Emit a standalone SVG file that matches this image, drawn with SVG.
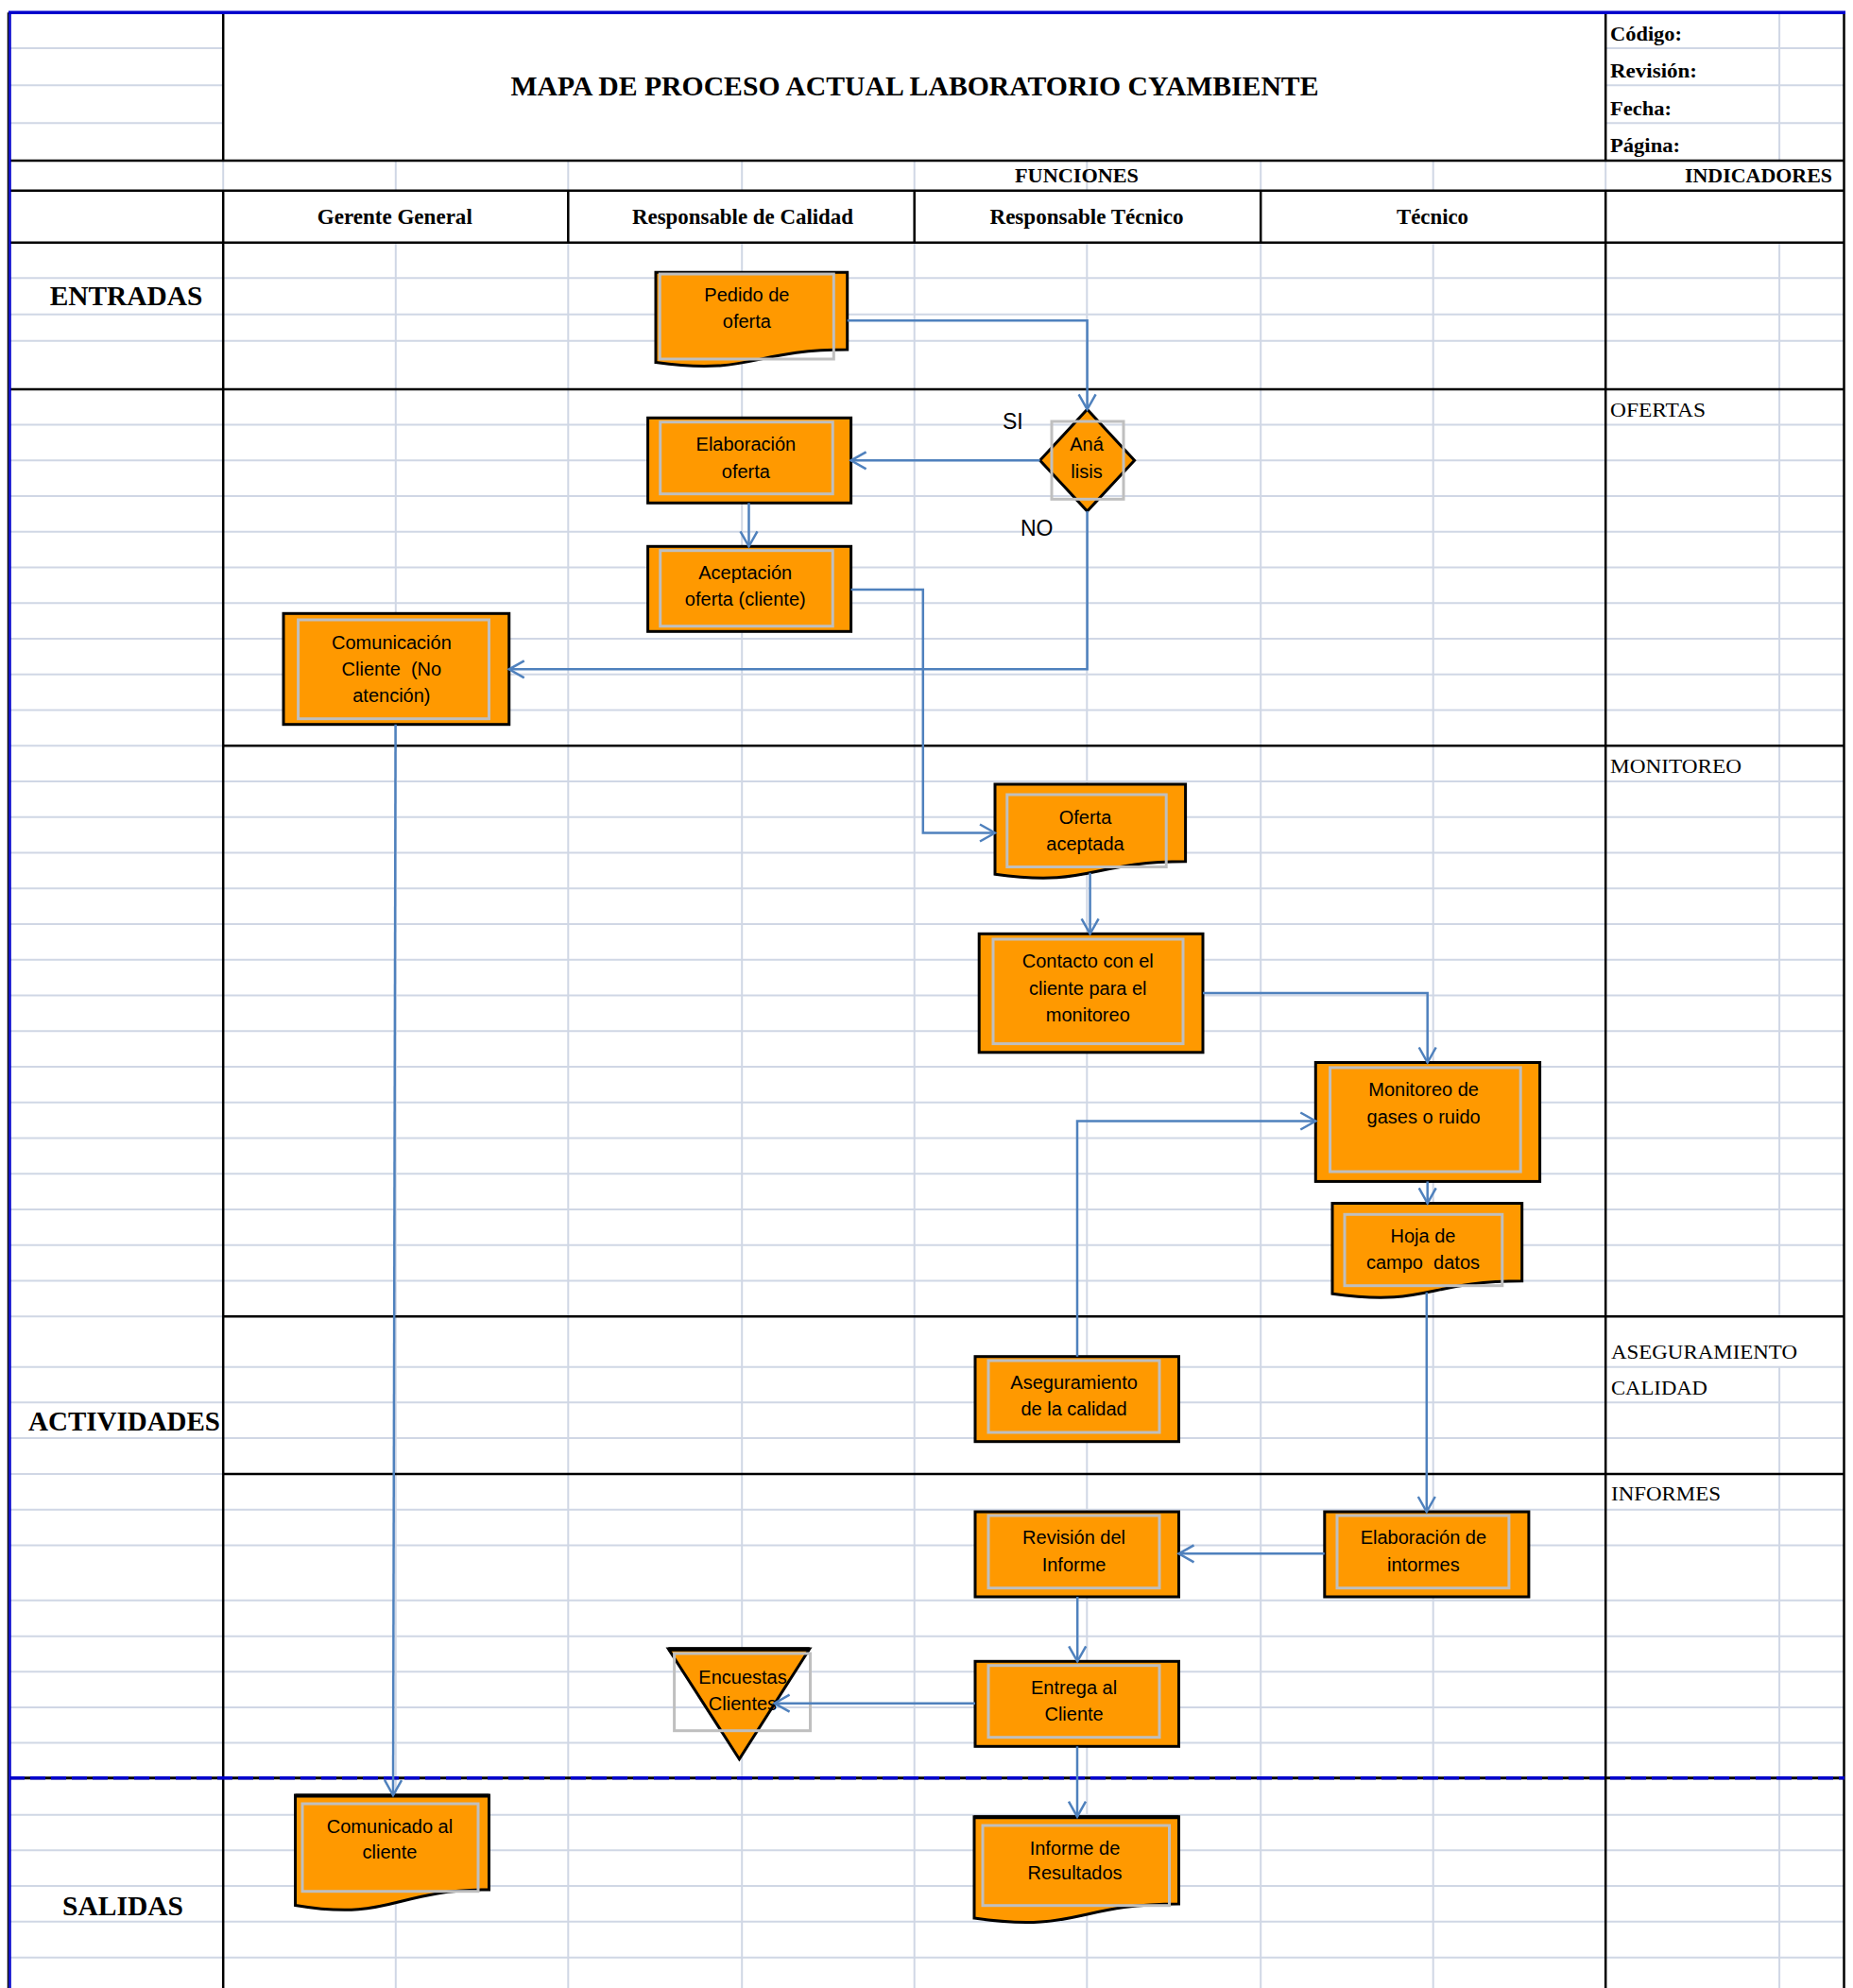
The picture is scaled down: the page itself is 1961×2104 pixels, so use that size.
<svg xmlns="http://www.w3.org/2000/svg" width="1961" height="2104" viewBox="0 0 1961 2104">
  <style>
    .grid { stroke: #D0D7E5; stroke-width: 2; fill: none; }
    .rule { stroke: #000; stroke-width: 2.5; fill: none; }
    .serif { font-family: "Liberation Serif", "Times New Roman", serif; fill: #000; }
    .b { font-weight: bold; }
    .sec { font-size: 29.5px; font-weight: bold; }
    .col { font-size: 22.5px; font-weight: bold; text-anchor: middle; }
    .meta { font-size: 22px; font-weight: bold; }
    .ind { font-size: 22px; }
    .box { fill: #FF9900; stroke: #000; stroke-width: 3; stroke-linejoin: miter; }
    .inner { fill: none; stroke: #BFBFBF; stroke-width: 3; }
    .nt { font-family: "Liberation Sans", Arial, sans-serif; font-size: 20px; fill: #000; text-anchor: middle; }
    .yn { font-family: "Liberation Sans", Arial, sans-serif; font-size: 23px; fill: #000; }
    .conn { fill: none; stroke: #4F81BD; stroke-width: 2.5; marker-end: url(#arr); }
  </style>
  <defs>
    <marker id="arr" markerUnits="userSpaceOnUse" markerWidth="24" markerHeight="24" viewBox="-20 -12 24 24" refX="0" refY="0" orient="auto">
      <path d="M-16,-9 L0,0 L-16,9" fill="none" stroke="#4F81BD" stroke-width="2.5"/>
    </marker>
  </defs>

  <rect x="0" y="0" width="1961" height="2104" fill="#fff"/>

  <!-- spreadsheet gridlines -->
  <g id="gridlines">
    <path class="grid" d="M10,51H236M10,90.3H236M10,130.3H236M1699,51H1951M1699,90.3H1951M1699,130.3H1951M1883.1,13.3V170"/>
    <path class="grid" d="M236.2,170V201.7M418.8,170V201.7M601.3,170V201.7M785.2,170V201.7M967.7,170V201.7M1150.3,170V201.7M1334.2,170V201.7M1516.7,170V201.7M1699.2,170V201.7"/>
    <path class="grid" d="M418.8,256.7V2104M601.3,256.7V2104M785.2,256.7V2104M967.7,256.7V2104M1150.3,256.7V2104M1334.2,256.7V2104M1516.7,256.7V2104M1883.1,256.7V1393.3M1883.1,1446.7V2104"/>
    <path class="grid" d="M10,294.3H1951M10,332.7H1951M10,360.7H1951
      M10,449.5H1951M10,487.2H1951M10,525H1951M10,562.7H1951M10,600.5H1951M10,638.3H1951M10,676H1951M10,713.8H1951M10,751.5H1951M10,789.3H236
      M10,827H1951M10,864.8H1951M10,902.5H1951M10,940.3H1951M10,978H1951M10,1015.8H1951M10,1053.5H1951M10,1091.3H1951M10,1129H1951M10,1166.8H1951M10,1204.5H1951M10,1242.3H1951M10,1280H1951M10,1317.8H1951M10,1355.5H1951M10,1393.3H236
      M10,1446.7H1951M10,1484.3H1951M10,1522H1951M10,1560H236
      M10,1597.7H1951M10,1635.6H1951M10,1693.7H1951M10,1731.7H1951M10,1769.3H1951M10,1806.9H1951M10,1844.5H1951
      M10,1920.7H1951M10,1958.3H1951M10,1995.9H1951M10,2033.7H1951M10,2071.7H1951"/>
  </g>

  <!-- table frame -->
  <g id="frame">
    <path class="rule" d="M10,170H1951M10,201.7H1951M10,256.7H1951M10,411.9H1951M236,789.3H1951M236,1393.3H1951M236,1560H1951"/>
    <path class="rule" d="M236.2,13.3V170M236.2,201.7V2104M1699.2,13.3V170M1699.2,201.7V2104M601.3,201.7V256.7M967.7,201.7V256.7M1334.2,201.7V256.7M1951.5,13.3V2104"/>
    <line x1="10" y1="1881.7" x2="1952" y2="1881.7" stroke="#000" stroke-width="3"/>
    <line x1="10" y1="1881.7" x2="1952" y2="1881.7" stroke="#0000CC" stroke-width="3.5" stroke-dasharray="16 6"/>
    <line x1="8.5" y1="13.3" x2="8.5" y2="2104" stroke="#000" stroke-width="1.5"/>
    <line x1="10.5" y1="13.3" x2="10.5" y2="2104" stroke="#0000CC" stroke-width="2.5"/>
    <line x1="9" y1="13.3" x2="1953" y2="13.3" stroke="#0000CC" stroke-width="3.5"/>
  </g>

  <!-- header texts -->
  <g id="header">
    <text class="serif b" x="968" y="100.5" font-size="29" text-anchor="middle" textLength="855" lengthAdjust="spacingAndGlyphs">MAPA DE PROCESO ACTUAL LABORATORIO CYAMBIENTE</text>
    <text class="serif meta" x="1704" y="42.7" textLength="76" lengthAdjust="spacingAndGlyphs">Código:</text>
    <text class="serif meta" x="1704" y="81.7" textLength="92" lengthAdjust="spacingAndGlyphs">Revisión:</text>
    <text class="serif meta" x="1704" y="122.3" textLength="65" lengthAdjust="spacingAndGlyphs">Fecha:</text>
    <text class="serif meta" x="1704" y="161" textLength="74" lengthAdjust="spacingAndGlyphs">Página:</text>
    <text class="serif meta" x="1074" y="192.7" textLength="131" lengthAdjust="spacingAndGlyphs">FUNCIONES</text>
    <text class="serif meta" x="1783" y="192.7" textLength="156" lengthAdjust="spacingAndGlyphs">INDICADORES</text>
    <text class="serif col" x="417.8" y="236.7" textLength="164" lengthAdjust="spacingAndGlyphs">Gerente General</text>
    <text class="serif col" x="786" y="236.7" textLength="234" lengthAdjust="spacingAndGlyphs">Responsable de Calidad</text>
    <text class="serif col" x="1150" y="236.7" textLength="205" lengthAdjust="spacingAndGlyphs">Responsable Técnico</text>
    <text class="serif col" x="1516" y="236.7" textLength="76" lengthAdjust="spacingAndGlyphs">Técnico</text>
    <text class="serif sec" x="52.7" y="322.7" textLength="161.6" lengthAdjust="spacingAndGlyphs">ENTRADAS</text>
    <text class="serif sec" x="30" y="1514.3" textLength="203" lengthAdjust="spacingAndGlyphs">ACTIVIDADES</text>
    <text class="serif sec" x="66" y="2026.7" textLength="128" lengthAdjust="spacingAndGlyphs">SALIDAS</text>
    <text class="serif ind" x="1704" y="440.7" textLength="101" lengthAdjust="spacingAndGlyphs">OFERTAS</text>
    <text class="serif ind" x="1704" y="818.3" textLength="139" lengthAdjust="spacingAndGlyphs">MONITOREO</text>
    <text class="serif ind" x="1705" y="1438.3" textLength="197" lengthAdjust="spacingAndGlyphs">ASEGURAMIENTO</text>
    <text class="serif ind" x="1705" y="1476" textLength="102" lengthAdjust="spacingAndGlyphs">CALIDAD</text>
    <text class="serif ind" x="1705" y="1588.3" textLength="116" lengthAdjust="spacingAndGlyphs">INFORMES</text>
  </g>

  <!-- process nodes -->
  <g id="pedido-oferta">
    <path class="box" d="M694,288.3H896.7V370.1C795.35,370.1 795.35,397.6 694,383.6Z"/>
    <rect class="inner" x="698.3" y="290" width="184" height="90"/>
    <text class="nt" x="790.4" y="319.3">Pedido de</text>
    <text class="nt" x="790.4" y="346.7">oferta</text>
  </g>

  <g id="analisis">
    <polygon class="box" points="1150.6,433.3 1200.6,487.3 1150.6,541 1100.6,487.3"/>
    <rect class="inner" x="1113" y="446" width="76" height="82.3"/>
    <text class="nt" x="1150" y="477.3">Aná</text>
    <text class="nt" x="1150" y="506">lisis</text>
  </g>

  <g id="elaboracion-oferta">
    <rect class="box" x="685.6" y="442.3" width="215" height="90"/>
    <rect class="inner" x="698.75" y="446.7" width="182.5" height="76"/>
    <text class="nt" x="789.4" y="477.3">Elaboración</text>
    <text class="nt" x="789.4" y="505.5">oferta</text>
  </g>

  <g id="aceptacion-oferta">
    <rect class="box" x="685.6" y="578.3" width="215" height="90"/>
    <rect class="inner" x="698.75" y="582.7" width="182.5" height="80"/>
    <text class="nt" x="788.75" y="612.7">Aceptación</text>
    <text class="nt" x="788.75" y="640.7">oferta (cliente)</text>
  </g>

  <g id="comunicacion-cliente">
    <rect class="box" x="300" y="649.3" width="238.75" height="117.4"/>
    <rect class="inner" x="315.6" y="656" width="201.9" height="104.7"/>
    <text class="nt" x="414.4" y="686.7">Comunicación</text>
    <text class="nt" x="414.4" y="715" xml:space="preserve">Cliente  (No</text>
    <text class="nt" x="414.4" y="742.7">atención)</text>
  </g>

  <g id="oferta-aceptada">
    <path class="box" d="M1053,830H1254.6V911.8C1153.8,911.8 1153.8,939.3 1053,925.3Z"/>
    <rect class="inner" x="1065.8" y="841" width="168.4" height="76.5"/>
    <text class="nt" x="1148.5" y="872">Oferta</text>
    <text class="nt" x="1148.5" y="900.3">aceptada</text>
  </g>

  <g id="contacto-cliente">
    <rect class="box" x="1036.2" y="988.3" width="236.8" height="125.5"/>
    <rect class="inner" x="1051" y="994" width="201" height="110.6"/>
    <text class="nt" x="1151.3" y="1023.9">Contacto con el</text>
    <text class="nt" x="1151.3" y="1052.6">cliente para el</text>
    <text class="nt" x="1151.3" y="1081.3">monitoreo</text>
  </g>

  <g id="monitoreo">
    <rect class="box" x="1392.3" y="1124.5" width="237.3" height="125.9"/>
    <rect class="inner" x="1407.6" y="1129.9" width="201.6" height="110.1"/>
    <text class="nt" x="1506.6" y="1159.7">Monitoreo de</text>
    <text class="nt" x="1506.6" y="1189.2">gases o ruido</text>
  </g>

  <g id="hoja-campo">
    <path class="box" d="M1410,1273.4H1610.7V1355.7C1510.35,1355.7 1510.35,1383.4 1410,1369.2Z"/>
    <rect class="inner" x="1423" y="1285.3" width="166.8" height="75.4"/>
    <text class="nt" x="1506" y="1314.7">Hoja de</text>
    <text class="nt" x="1506" y="1342.7" xml:space="preserve">campo  datos</text>
  </g>

  <g id="aseguramiento-calidad">
    <rect class="box" x="1032" y="1435.7" width="215.5" height="90"/>
    <rect class="inner" x="1046" y="1440" width="181" height="76"/>
    <text class="nt" x="1136.6" y="1470">Aseguramiento</text>
    <text class="nt" x="1136.6" y="1498.3">de la calidad</text>
  </g>

  <g id="revision-informe">
    <rect class="box" x="1032" y="1600" width="215.5" height="90"/>
    <rect class="inner" x="1046" y="1604" width="181" height="76.7"/>
    <text class="nt" x="1136.6" y="1634">Revisión del</text>
    <text class="nt" x="1136.6" y="1662.7">Informe</text>
  </g>

  <g id="elaboracion-informes">
    <rect class="box" x="1401.8" y="1600" width="216.1" height="90"/>
    <rect class="inner" x="1415" y="1604" width="181.9" height="76.7"/>
    <text class="nt" x="1506.4" y="1634">Elaboración de</text>
    <text class="nt" x="1506.4" y="1662.7">intormes</text>
  </g>

  <g id="entrega-cliente">
    <rect class="box" x="1032" y="1758.3" width="215.5" height="90"/>
    <rect class="inner" x="1046" y="1762.7" width="181" height="76"/>
    <text class="nt" x="1136.6" y="1793.3">Entrega al</text>
    <text class="nt" x="1136.6" y="1820.7">Cliente</text>
  </g>

  <g id="encuestas-clientes">
    <polygon class="box" points="707.3,1745 856.8,1745 782.4,1861.7"/>
    <line x1="707.3" y1="1745.5" x2="856.8" y2="1745.5" stroke="#000" stroke-width="4.5"/>
    <rect class="inner" x="713.6" y="1750" width="143.9" height="81.7"/>
    <text class="nt" x="786" y="1782.3">Encuestas</text>
    <text class="nt" x="786" y="1810">Clientes</text>
  </g>

  <g id="comunicado-cliente">
    <path class="box" d="M312.5,1900H517.5V2000C415,2000 415,2033.7 312.5,2016.5Z"/>
    <line x1="312.5" y1="1900.5" x2="517.5" y2="1900.5" stroke="#000" stroke-width="4"/>
    <rect class="inner" x="320" y="1909" width="186" height="92.7"/>
    <text class="nt" x="412.5" y="1940">Comunicado al</text>
    <text class="nt" x="412.5" y="1966.7">cliente</text>
  </g>

  <g id="informe-resultados">
    <path class="box" d="M1031,1922.7H1247.5V2014.9C1139.25,2014.9 1139.25,2046 1031,2030.1Z"/>
    <line x1="1031" y1="1923.2" x2="1247.5" y2="1923.2" stroke="#000" stroke-width="4"/>
    <rect class="inner" x="1040" y="1932" width="197.5" height="84.7"/>
    <text class="nt" x="1137.5" y="1962.7">Informe de</text>
    <text class="nt" x="1137.5" y="1989.3">Resultados</text>
  </g>

  <!-- flow connectors -->
  <g id="connectors">
    <path class="conn" d="M896.7,339.3H1150.6V433.3"/>
    <path class="conn" d="M1100.6,487.3H900.6"/>
    <path class="conn" d="M792.5,532.3V578.3"/>
    <path class="conn" d="M1150.6,541V708.3H538.75"/>
    <path class="conn" d="M900.6,624H976.8V881.5H1053"/>
    <path class="conn" d="M418.6,766.7L416,1900"/>
    <path class="conn" d="M1153.6,923.8V988.3"/>
    <path class="conn" d="M1273,1051H1510.7V1124.5"/>
    <path class="conn" d="M1510.7,1250.4V1273.4"/>
    <path class="conn" d="M1509.8,1367.8V1600"/>
    <path class="conn" d="M1140,1435.7V1186.5H1392.3"/>
    <path class="conn" d="M1401.8,1644.3H1247.5"/>
    <path class="conn" d="M1140.2,1690V1758.3"/>
    <path class="conn" d="M1032,1802.7H819.6"/>
    <path class="conn" d="M1140,1848.3V1922.7"/>
    <text class="yn" x="1061" y="454">SI</text>
    <text class="yn" x="1080" y="566.7">NO</text>
  </g>
</svg>
